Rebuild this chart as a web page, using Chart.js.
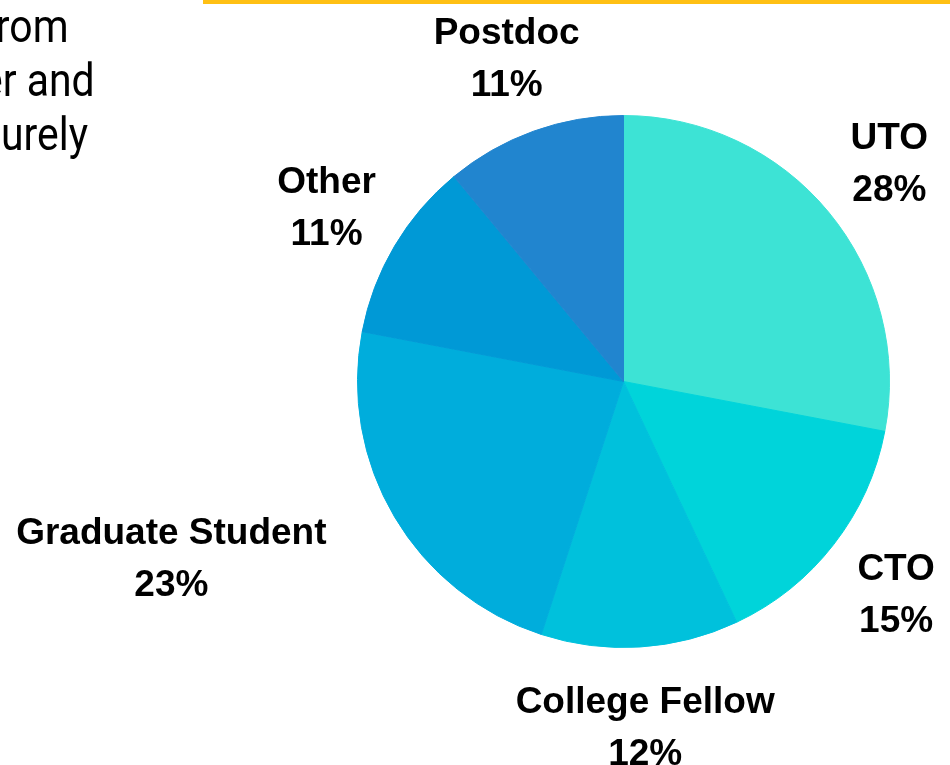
<!DOCTYPE html>
<html>
<head>
<meta charset="utf-8">
<script src="https://cdn.jsdelivr.net/npm/chart.js@4.4.1/dist/chart.umd.min.js"></script>
<style>
    html, body { margin: 0; padding: 0; background: #fff; overflow: hidden; }
    #wrap { position: relative; width: 950px; height: 765px; }
    #myChart { position: absolute; left: 0; top: 0; }
    .topline { position: absolute; left: 203px; top: 0; width: 747px; height: 4px; background: #ffc014; }
    .side { position: absolute; font-family: 'Roboto', sans-serif; font-size: 47px; font-weight: 400;
            line-height: 54px; color: #000; white-space: nowrap; text-align: right;
            transform: scaleX(0.87); transform-origin: right center; }
</style>
</head>
<body>
<div id="wrap">
    <canvas id="myChart" width="950" height="765"></canvas>
    <div class="topline"></div>
    <div class="side" style="right:882px; top:-1px;">rom</div>
    <div class="side" style="right:855px; top:53px;">er and</div>
    <div class="side" style="right:862px; top:107px;">urely</div>
</div>
<script>
// pie slices, clockwise from the top
var labels = ['UTO', 'CTO', 'College Fellow', 'Graduate Student', 'Other', 'Postdoc'];
var shares = [28, 15, 12, 23, 11, 11];
var colors = ['#3de3d5', '#00d4da', '#00c1dc', '#00addc', '#0099d6', '#2185cf'];

const ctx = document.getElementById('myChart');

// labels outside the pie: name on top, percent under it
const outsideLabels = {
    id: 'outsideLabels',
    afterDraw(chart) {
        var c = chart.ctx;
        var arcs = chart.getDatasetMeta(0).data;
        c.save();
        c.font = 'bold 37px "Liberation Sans", Arial, sans-serif';
        c.fillStyle = '#000';
        c.textBaseline = 'alphabetic';
        c.textAlign = 'center';
        arcs.forEach(function (arc, i) {
            var mid = (arc.startAngle + arc.endAngle) / 2;
            var R = arc.outerRadius;
            var d = R + 79;
            var ax = arc.x + Math.cos(mid) * d;
            var ay = arc.y + Math.sin(mid) * d;
            var line1 = labels[i];
            var line2 = shares[i] + '%';
            var w = Math.max(c.measureText(line1).width, c.measureText(line2).width);
            var h = 86;
            var cx = ax;
            // nearest point of the label box to the pie centre
            var nx = Math.max(cx - w / 2, Math.min(arc.x, cx + w / 2));
            var ny = Math.max(ay - h / 2, Math.min(arc.y, ay + h / 2));
            if (Math.hypot(nx - arc.x, ny - arc.y) < R) {
                // too wide, push it out so its edge sits on the anchor
                cx = Math.cos(mid) < 0 ? ax - w / 2 : ax + w / 2;
            }
            c.fillText(line1, cx, ay - 13);
            c.fillText(line2, cx, ay + 39);
        });
        c.restore();
    }
};

new Chart(ctx, {
    type: 'pie',
    data: {
        labels: labels,
        datasets: [{
            data: shares,
            backgroundColor: colors,
            borderColor: colors,
            borderWidth: 1
        }]
    },
    options: {
        responsive: false,
        animation: false,
        layout: {
            padding: { left: 357, right: 60, top: 115, bottom: 117 }
        },
        plugins: {
            legend: { display: false },
            tooltip: { enabled: false }
        }
    },
    plugins: [outsideLabels]
});
</script>
</body>
</html>
